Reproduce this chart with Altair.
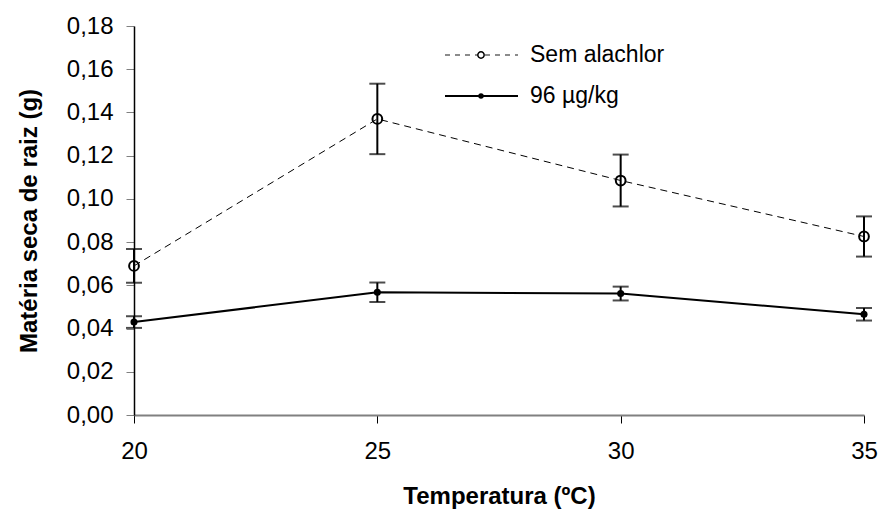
import altair as alt
import pandas as pd

# Root dry matter (g) by temperature, mean and error for each treatment
temperatures = [20, 25, 30, 35]
series_names = ["Sem alachlor", "96 µg/kg"]
sem_alachlor = [0.069, 0.137, 0.1085, 0.0826]
sem_alachlor_err = [0.0078, 0.0163, 0.012, 0.0093]
alachlor_96 = [0.043, 0.0568, 0.0562, 0.0466]
alachlor_96_err = [0.0027, 0.0045, 0.0032, 0.0029]

FONT = "Liberation Sans"


def frame(values, errors, name):
    return pd.DataFrame({
        "temp": temperatures,
        "value": values,
        "lo": [v - e for v, e in zip(values, errors)],
        "hi": [v + e for v, e in zip(values, errors)],
        "serie": name,
    })


df_sem = frame(sem_alachlor, sem_alachlor_err, series_names[0])
df_96 = frame(alachlor_96, alachlor_96_err, series_names[1])

x_scale = alt.Scale(domain=[20, 35], nice=False, zero=False)
y_scale = alt.Scale(domain=[0, 0.18], nice=False)

x_axis = alt.Axis(
    values=temperatures, title="Temperatura (ºC)", grid=False, labelFlush=False,
    domainColor="#808080", domainWidth=2, tickColor="#000000", tickSize=8,
    labelFontSize=24, labelPadding=16, labelColor="#000000", labelFont=FONT,
    titleFontSize=24, titleFontWeight="bold", titleFont=FONT, titlePadding=21,
    titleColor="#000000",
)
y_axis = alt.Axis(
    values=[0, 0.02, 0.04, 0.06, 0.08, 0.10, 0.12, 0.14, 0.16, 0.18],
    labelExpr="replace(format(datum.value, '.2f'), '.', ',')",
    title="Matéria seca de raiz (g)", grid=False, labelFlush=False,
    domainColor="#000000", domainWidth=1.5, tickColor="#808080", tickSize=8,
    labelFontSize=24, labelPadding=13, labelColor="#000000", labelFont=FONT,
    titleFontSize=24, titleFontWeight="bold", titleFont=FONT, titlePadding=25,
    titleColor="#000000",
)

X = alt.X("temp:Q", scale=x_scale, axis=x_axis)
Y = alt.Y("value:Q", scale=y_scale, axis=y_axis)


def series_layers(df, dashed, filled, size):
    base = alt.Chart(df)
    line_kwargs = dict(color="#000000", strokeWidth=1 if dashed else 2)
    if dashed:
        line_kwargs["strokeDash"] = [7, 5]
    line = base.mark_line(**line_kwargs).encode(x=X, y=Y)
    bar = base.mark_rule(color="#000000", strokeWidth=2).encode(
        x="temp:Q", y=alt.Y("lo:Q", scale=y_scale), y2="hi:Q")
    cap_lo = base.mark_tick(color="#000000", orient="horizontal", size=16,
                            thickness=2).encode(x="temp:Q", y=alt.Y("lo:Q", scale=y_scale))
    cap_hi = base.mark_tick(color="#000000", orient="horizontal", size=16,
                            thickness=2).encode(x="temp:Q", y=alt.Y("hi:Q", scale=y_scale))
    if filled:
        pts = base.mark_point(shape="circle", filled=True, color="#000000",
                              opacity=1, size=size).encode(x="temp:Q", y="value:Q")
    else:
        pts = base.mark_point(shape="circle", filled=False, color="#000000",
                              strokeWidth=2, opacity=1, size=size).encode(x="temp:Q", y="value:Q")
    return [line, bar, cap_lo, cap_hi, pts]


def legend_layers(name, ypos, dashed, filled):
    d = pd.DataFrame({"label": [name]})
    base = alt.Chart(d)
    rule_kwargs = dict(color="#666666" if dashed else "#000000",
                       strokeWidth=1.5 if dashed else 2)
    if dashed:
        rule_kwargs["strokeDash"] = [5, 5]
    rule = base.mark_rule(**rule_kwargs).encode(
        x=alt.value(311), x2=alt.value(384), y=alt.value(ypos))
    if filled:
        sym = base.mark_point(shape="circle", filled=True, color="#000000",
                              opacity=1, size=30)
    else:
        sym = base.mark_point(shape="circle", filled=False, color="#000000",
                              fill="#ffffff", fillOpacity=1, strokeWidth=1.5,
                              opacity=1, size=40)
    sym = sym.encode(x=alt.value(347), y=alt.value(ypos))
    txt = base.mark_text(align="left", baseline="middle", fontSize=23,
                         font=FONT, color="#000000").encode(
        x=alt.value(396), y=alt.value(ypos), text="label:N")
    return [rule, sym, txt]


layers = (
    series_layers(df_sem, dashed=True, filled=False, size=95)
    + series_layers(df_96, dashed=False, filled=True, size=50)
    + legend_layers(series_names[0], 29, dashed=True, filled=False)
    + legend_layers(series_names[1], 70, dashed=False, filled=True)
)

chart = alt.layer(*layers).properties(
    width=730,
    height=389,
    autosize=alt.AutoSizeParams(type="none"),
    padding={"left": 134, "top": 26, "right": 18, "bottom": 95},
    background="#ffffff",
).configure_view(stroke=None)

chart.save("out.html", embed_options={"renderer": "svg", "actions": False})
